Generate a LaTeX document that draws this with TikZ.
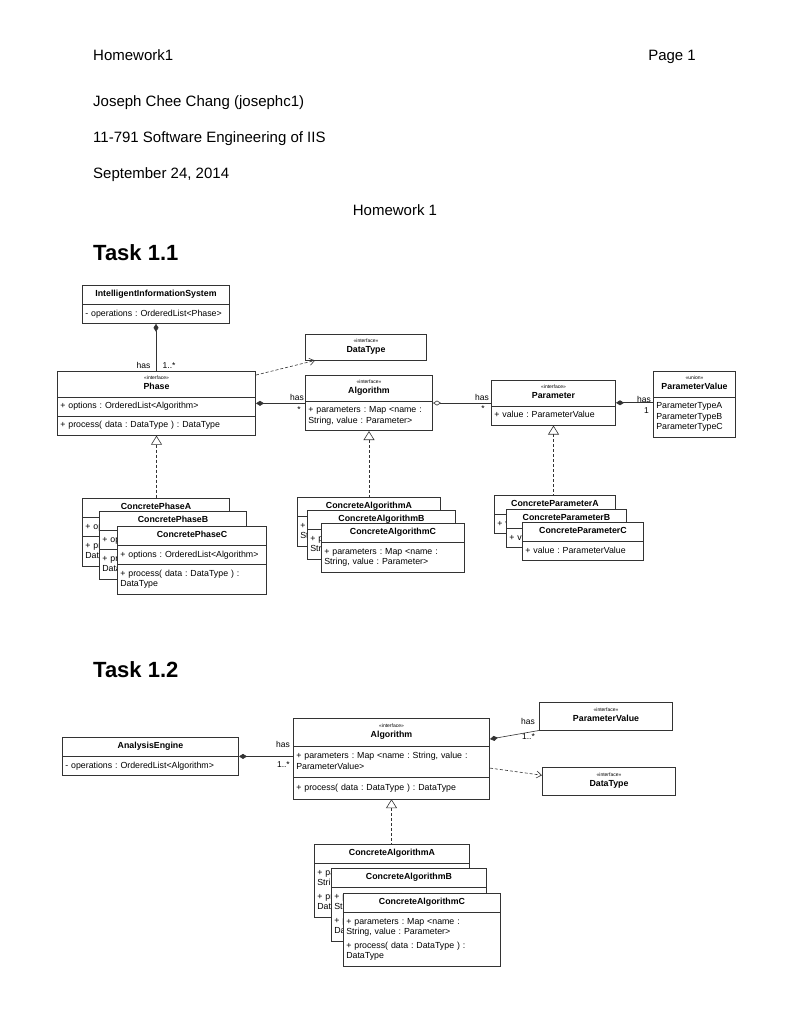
\documentclass[tikz,border=0pt]{standalone}
\usepackage{fontspec}
\setmainfont{Liberation Sans}
\usepackage{tikz}
\usetikzlibrary{arrows.meta,positioning,shapes.multipart}
\definecolor{umlline}{HTML}{333333}
\newcommand{\umlst}[1]{\makebox[\hsize]{\fontsize{5}{6}\selectfont«#1»}\\}
\newcommand{\umlname}[1]{\makebox[\hsize]{\textbf{#1}}\strut}
\frenchspacing

\begin{document}
\begin{tikzpicture}[x=1pt, y=-1pt, every node/.style={font=\fontsize{8.8}{10.5}\selectfont}, cls/.style={rectangle split,rectangle split parts=#1,draw=umlline,fill=white,line width=.6pt,anchor=north west,inner xsep=3pt,inner ysep=4pt,align=left}, cls/.default=2, lbl/.style={inner sep=0pt,font=\fontsize{8.5}{10}\selectfont}, head/.style={anchor=base west,inner sep=0pt,font=\fontsize{15}{18}\selectfont}, task/.style={anchor=base west,inner sep=0pt,font=\fontsize{22}{26}\selectfont\bfseries}, comp/.style={draw=umlline,line width=.6pt,{Diamond[length=8pt,width=5pt]}-}, aggr/.style={draw=umlline,line width=.6pt,{Diamond[open,length=8pt,width=5pt]}-}, dep/.style={draw=umlline,line width=.6pt,dash pattern=on 3pt off 2pt,-{Straight Barb[length=5pt,width=7pt]}}, real/.style={draw=umlline,line width=.6pt,dash pattern=on 3pt off 2pt,{Triangle[open,length=9pt,width=11pt]}-}]
\fill[white] (0,0) rectangle (790,1024);
\useasboundingbox (0,0) rectangle (790,1024);
\node[head] (hw) at (93,61) {Homework1};
\node[head,anchor=base east] (pg) at (696,61) {Page 1};
\node[head] (name) at (93,107) {Joseph Chee Chang (josephc1)};
\node[head] (course) at (93,143) {11-791 Software Engineering of IIS};
\node[head] (date) at (93,179) {September 24, 2014};
\node[head,anchor=base] (title) at (395,216) {Homework 1};
\node[task] (t1) at (93,260) {Task 1.1};
\node[task] (t2) at (93,677) {Task 1.2};
\node[cls,text width=141.4pt] (iis) at (82,285) {\umlname{IntelligentInformationSystem}\nodepart{two}\strut- operations : OrderedList<Phase>};
\node[cls=3,text width=192.4pt] (phase) at (57,371) {\umlst{interface}\umlname{Phase}\nodepart{two}\strut+ options : OrderedList<Algorithm>\nodepart{three}\strut+ process( data : DataType ) : DataType};
\node[cls=1,text width=115.4pt] (dtype) at (305,334) {\umlst{interface}\umlname{DataType}};
\node[cls,text width=121.4pt] (alg) at (305,375) {\umlst{interface}\umlname{Algorithm}\nodepart{two}\strut+ parameters : Map <name :\\String, value : Parameter>\strut};
\node[cls,text width=118.4pt] (param) at (491,380) {\umlst{interface}\umlname{Parameter}\nodepart{two}\strut+ value : ParameterValue};
\node[cls,text width=76.4pt] (pval) at (653,371) {\umlst{union}\umlname{ParameterValue}\nodepart{two}\strut ParameterTypeA\\ParameterTypeB\\ParameterTypeC\strut};
\node[cls=3,text width=141.4pt] (cpa) at (82,498) {\umlname{ConcretePhaseA}\nodepart{two}\strut+ options : OrderedList<Algorithm>\nodepart{three}\strut+ process( data : DataType ) :\\DataType\strut};
\node[cls=3,text width=141.4pt] (cpb) at (99,511) {\umlname{ConcretePhaseB}\nodepart{two}\strut+ options : OrderedList<Algorithm>\nodepart{three}\strut+ process( data : DataType ) :\\DataType\strut};
\node[cls=3,text width=143.4pt] (cpc) at (117,526) {\umlname{ConcretePhaseC}\nodepart{two}\strut+ options : OrderedList<Algorithm>\nodepart{three}\strut+ process( data : DataType ) :\\DataType\strut};
\node[cls,text width=137.4pt] (cala) at (297,497) {\umlname{ConcreteAlgorithmA}\nodepart{two}\strut+ parameters : Map <name :\\String, value : Parameter>\strut};
\node[cls,text width=142.4pt] (calb) at (307,510) {\umlname{ConcreteAlgorithmB}\nodepart{two}\strut+ parameters : Map <name :\\String, value : Parameter>\strut};
\node[cls,text width=137.4pt] (calc) at (321,523) {\umlname{ConcreteAlgorithmC}\nodepart{two}\strut+ parameters : Map <name :\\String, value : Parameter>\strut};
\node[cls,text width=115.4pt] (cpra) at (494,495) {\umlname{ConcreteParameterA}\nodepart{two}\strut+ value : ParameterValue};
\node[cls,text width=114.4pt] (cprb) at (506,509) {\umlname{ConcreteParameterB}\nodepart{two}\strut+ value : ParameterValue};
\node[cls,text width=115.4pt] (cprc) at (522,522) {\umlname{ConcreteParameterC}\nodepart{two}\strut+ value : ParameterValue};
\draw[comp] (iis.south) -- (iis.south |- phase.north);
\node[lbl,above left=2pt and 6pt of phase.north] (h1) {has};
\node[lbl,above right=2pt and 6pt of phase.north] (m1) {1..*};
\draw[dep] ([yshift=-4pt]phase.north east) -- ([xshift=10pt]dtype.south west);
\draw[comp] (phase.east) -- (phase.east -| alg.west);
\node[lbl,above left=2pt and 1pt of alg.west] (h2) {has};
\node[lbl,below left=3pt and 4pt of alg.west] (m2) {*};
\draw[aggr] (alg.east) -- (alg.east -| param.west);
\node[lbl,above left=2pt and 2pt of param.west] (h3) {has};
\node[lbl,below left=3pt and 6pt of param.west] (m3) {*};
\draw[comp] (param.east) -- (param.east -| pval.west);
\node[lbl,above left=2pt and 2pt of pval.west] (h4) {has};
\node[lbl,below left=3pt and 4pt of pval.west] (m4) {1};
\draw[real] (phase.south) -- (phase.south |- cpa.north);
\draw[real] (alg.south) -- (alg.south |- cala.north);
\draw[real] (param.south) -- (param.south |- cpra.north);
\node[cls,text width=170.4pt] (eng) at (62,737) {\umlname{AnalysisEngine}\nodepart{two}\strut- operations : OrderedList<Algorithm>};
\node[cls=3,text width=190.4pt,inner ysep=5pt] (alg2) at (293,718) {\umlst{interface}\umlname{Algorithm}\nodepart{two}\strut+ parameters : Map <name : String, value :\\ParameterValue>\strut\nodepart{three}\strut+ process( data : DataType ) : DataType};
\node[cls=1,text width=127.4pt,inner ysep=5pt] (pval2) at (539,702) {\umlst{interface}\umlname{ParameterValue}};
\node[cls=1,text width=127.4pt,inner ysep=5pt] (dtype2) at (542,767) {\umlst{interface}\umlname{DataType}};
\node[cls,text width=149.4pt] (ca2a) at (314,844) {\umlname{ConcreteAlgorithmA}\nodepart{two}\strut+ parameters : Map <name :\\String, value : Parameter>\\[3pt]+ process( data : DataType ) :\\DataType\strut};
\node[cls,text width=149.4pt] (ca2b) at (331,868) {\umlname{ConcreteAlgorithmB}\nodepart{two}\strut+ parameters : Map <name :\\String, value : Parameter>\\[3pt]+ process( data : DataType ) :\\DataType\strut};
\node[cls,text width=151.4pt] (ca2c) at (343,893) {\umlname{ConcreteAlgorithmC}\nodepart{two}\strut+ parameters : Map <name :\\String, value : Parameter>\\[3pt]+ process( data : DataType ) :\\DataType\strut};
\draw[comp] (eng.east) -- (eng.east -| alg2.west);
\node[lbl,above left=11pt and 3pt of alg2.west] (h5) {has};
\node[lbl,below left=3pt and 3pt of alg2.west] (m5) {1..*};
\draw[comp] ([yshift=19.5pt]alg2.east) -- (pval2.south west);
\node[lbl,above left=6pt and 4pt of pval2.south west] (h6) {has};
\node[lbl,below left=3pt and 4pt of pval2.south west] (m6) {1..*};
\draw[dep] ([yshift=-9.5pt]alg2.east) -- ([yshift=6pt]dtype2.west);
\draw[real] (alg2.south) -- (alg2.south |- ca2a.north);
\end{tikzpicture}
\end{document}
